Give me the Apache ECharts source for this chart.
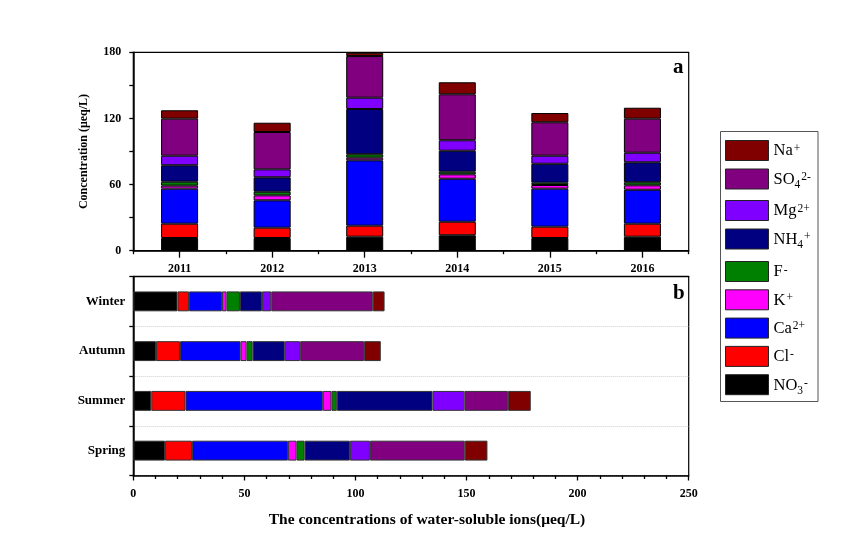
<!DOCTYPE html>
<html>
<head>
<meta charset="utf-8">
<script src="https://cdn.jsdelivr.net/npm/echarts@6/dist/echarts.min.js"></script>
<style>
html,body{margin:0;padding:0;background:#fff;}
#c{width:849px;height:533px;}
</style>
</head>
<body>
<div id="c"></div>
<script>
const years = ['2011', '2012', '2013', '2014', '2015', '2016'];
const seasons = ['Spring', 'Summer', 'Autumn', 'Winter'];
const ions = ['NO3-', 'Cl-', 'Ca2+', 'K+', 'F-', 'NH4+', 'Mg2+', 'SO42-', 'Na+'];
const ionColors = ['#000000', '#ff0000', '#0000ff', '#ff00ff', '#008000', '#000080', '#8000ff', '#800080', '#800000'];

// panel a: yearly concentrations (μeq/L), one array per ion, order = years
const yNO3 = [11.5, 11.5, 12.7, 14.0, 11.5, 12.7];
const yCl  = [13.0, 9.4, 10.0, 12.3, 10.3, 11.8];
const yCa  = [31.8, 24.8, 59.3, 39.0, 34.5, 30.8];
const yK   = [2.7, 4.5, 2.4, 4.0, 3.3, 4.0];
const yF   = [3.6, 3.3, 3.1, 2.4, 2.1, 2.8];
const yNH4 = [14.9, 13.1, 41.1, 19.0, 17.2, 18.1];
const yMg  = [8.7, 7.2, 10.2, 9.5, 7.3, 8.7];
const ySO4 = [33.6, 33.9, 37.8, 41.7, 30.3, 30.9];
const yNa  = [7.6, 8.4, 3.0, 10.9, 8.4, 9.9];

// panel b: seasonal concentrations, order = seasons
const sNO3 = [14.3, 8.1, 10.2, 19.9];
const sCl  = [12.1, 15.4, 10.8, 5.2];
const sCa  = [43.2, 61.8, 27.3, 14.8];
const sK   = [3.9, 3.9, 2.7, 2.1];
const sF   = [3.6, 2.4, 2.7, 6.0];
const sNH4 = [20.4, 43.1, 14.5, 9.9];
const sMg  = [9.0, 14.3, 6.9, 4.2];
const sSO4 = [42.7, 19.6, 28.8, 45.7];
const sNa  = [10.2, 10.3, 7.5, 5.3];

const yearTicks = [0, 60, 120, 180];
const concTicks = [0, 50, 100, 150, 200, 250];

const yearData = [yNO3, yCl, yCa, yK, yF, yNH4, yMg, ySO4, yNa];
const seasonData = [sNO3, sCl, sCa, sK, sF, sNH4, sMg, sSO4, sNa];

const FONT = '"Liberation Serif", "Times New Roman", serif';

const richLabel = {
  'Na+': '{b|Na}{sp|+}',
  'SO42-': '{b|SO}{sb|4}{sp|2-}',
  'Mg2+': '{b|Mg}{sp|2+}',
  'NH4+': '{b|NH}{sb|4}{sp|+}',
  'F-': '{b|F}{sp|-}',
  'K+': '{b|K}{sp|+}',
  'Ca2+': '{b|Ca}{sp|2+}',
  'Cl-': '{b|Cl}{sp|-}',
  'NO3-': '{b|NO}{sb|3}{sp|-}'
};
const rich = {
  b: {fontFamily: FONT, fontSize: 16.5, lineHeight: 16, verticalAlign: 'top', color: '#000'},
  sp: {fontFamily: FONT, fontSize: 11.5, lineHeight: 11, verticalAlign: 'top', color: '#000', padding: [0, 0, 0, 1]},
  sb: {fontFamily: FONT, fontSize: 11.5, lineHeight: 11, verticalAlign: 'top', color: '#000', padding: [8, 0, 0, 0]}
};

function makeLegend(names, top, gap) {
  return {
    orient: 'vertical', left: 725, top: top, padding: 0, itemWidth: 43, itemHeight: 20, itemGap: gap,
    icon: 'rect', data: names,
    itemStyle: {borderColor: '#222', borderWidth: 1},
    formatter: n => richLabel[n],
    textStyle: {rich: rich, fontFamily: FONT, fontSize: 16.5, color: '#000'},
    selectedMode: true
  };
}

const series = [];
ions.forEach((name, i) => {
  series.push({
    name: name, type: 'bar', stack: 'years', xAxisIndex: 0, yAxisIndex: 0,
    barWidth: '40%', data: yearData[i],
    itemStyle: {color: ionColors[i], borderColor: '#000', borderWidth: 1}
  });
});
ions.forEach((name, i) => {
  series.push({
    name: name, type: 'bar', stack: 'seasons', xAxisIndex: 2, yAxisIndex: 1,
    barWidth: '40%', data: seasonData[i],
    itemStyle: {color: ionColors[i], borderColor: '#333', borderWidth: 1}
  });
});

const axisLine = {show: true, lineStyle: {color: '#000', width: 1.5}};
const labelStyle = {fontFamily: FONT, fontWeight: 'bold', color: '#000', fontSize: 12};

const option = {
  animation: false,
  backgroundColor: '#fff',
  title: [
    {text: 'a', left: 673, top: 57, padding: 0, textStyle: {fontFamily: FONT, fontWeight: 'bold', fontSize: 21, color: '#000'}},
    {text: 'b', left: 673, top: 283, padding: 0, textStyle: {fontFamily: FONT, fontWeight: 'bold', fontSize: 21, color: '#000'}},
    {text: 'The concentrations of water-soluble ions(\u03bceq/L)', left: 427, top: 512, padding: 0, textAlign: 'center',
     textStyle: {fontFamily: FONT, fontWeight: 'bold', fontSize: 15.5, color: '#000'}}
  ],
  legend: [
    makeLegend(['Na+', 'SO42-'], 140, 7.5),
    makeLegend(['Mg2+', 'NH4+'], 200, 7.5),
    makeLegend(['F-', 'K+', 'Ca2+', 'Cl-', 'NO3-'], 261, 7.3)
  ],
  graphic: [
    {type: 'rect', shape: {x: 720.5, y: 131.5, width: 97.5, height: 270}, style: {fill: 'none', stroke: '#555', lineWidth: 1}, z: 100, silent: true}
  ],
  grid: [
    {left: 133.3, top: 52.3, width: 555.4, height: 198.4, show: true, borderColor: '#000', borderWidth: 1.2, backgroundColor: 'transparent'},
    {left: 133.3, top: 276.5, width: 555.4, height: 199, show: true, borderColor: '#000', borderWidth: 1.2, backgroundColor: 'transparent'}
  ],
  xAxis: [
    {type: 'category', gridIndex: 0, data: years, axisLine: axisLine,
     axisTick: {show: true, alignWithLabel: true, length: 7, lineStyle: {color: '#000', width: 1.3}},
     axisLabel: Object.assign({margin: 12}, labelStyle), splitLine: {show: false}},
    {type: 'category', gridIndex: 0, data: years, position: 'bottom', axisLine: {show: false},
     axisTick: {show: true, length: 3.5, lineStyle: {color: '#000', width: 1.3}},
     axisLabel: {show: false}, splitLine: {show: false}},
    {type: 'value', gridIndex: 1, min: concTicks[0], max: concTicks[concTicks.length - 1], interval: 50,
     axisLine: axisLine,
     axisTick: {show: true, length: 5, lineStyle: {color: '#000', width: 1.3}},
     minorTick: {show: true, splitNumber: 5, length: 3.5, lineStyle: {color: '#000', width: 1.3}},
     axisLabel: Object.assign({margin: 12}, labelStyle), splitLine: {show: false}},
    {type: 'value', gridIndex: 1, position: 'top', min: concTicks[0], max: concTicks[concTicks.length - 1], interval: 50,
     axisLine: {show: true, lineStyle: {color: '#000', width: 1.3}},
     axisTick: {show: false}, axisLabel: {show: false}, splitLine: {show: false}}
  ],
  yAxis: [
    {type: 'value', gridIndex: 0, min: yearTicks[0], max: yearTicks[yearTicks.length - 1], interval: 60,
     name: 'Concentration (\u03bceq/L)', nameLocation: 'middle', nameGap: 43,
     nameTextStyle: {fontFamily: FONT, fontWeight: 'bold', fontSize: 12, color: '#000'},
     axisLine: axisLine,
     axisTick: {show: true, length: 4, lineStyle: {color: '#000', width: 1.3}},
     minorTick: {show: true, splitNumber: 2, length: 4, lineStyle: {color: '#000', width: 1.3}},
     axisLabel: Object.assign({margin: 12}, labelStyle), splitLine: {show: false}},
    {type: 'category', gridIndex: 1, data: seasons, axisLine: axisLine,
     axisTick: {show: true, length: 4, lineStyle: {color: '#000', width: 1.3}},
     axisLabel: Object.assign({}, labelStyle, {fontSize: 13, margin: 8}),
     splitLine: {show: true, lineStyle: {color: '#d0d0d0', type: 'dotted', width: 1}}}
  ],
  series: series
};

const chart = echarts.init(document.getElementById('c'), null, {renderer: 'canvas'});
chart.setOption(option);
</script>
</body>
</html>
